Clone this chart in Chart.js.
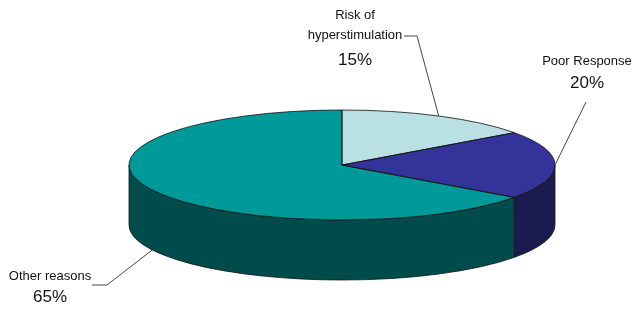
<!DOCTYPE html>
<html>
<head>
<meta charset="utf-8">
<script src="https://cdn.jsdelivr.net/npm/chart.js@4/dist/chart.umd.min.js"></script>
<style>
  html, body { margin: 0; padding: 0; background: #fff; }
  #wrap { width: 633px; height: 309px; }
</style>
</head>
<body>
<div id="wrap"><canvas id="pieChart" width="633" height="309"></canvas></div>
<script>
// datos del grafico
const categorias = [['Risk of', 'hyperstimulation'], ['Poor Response'], ['Other reasons']];
const valores = [15, 20, 65];
const coloresTapa = ['#b9e0e3', '#333399', '#009999'];
const coloresLado = ['#7fa3a6', '#1b1b4f', '#004c4c'];

// geometria de la elipse en pantalla
const CX = 342, CY = 165, RX = 213, RY = 55, PROF = 60;

// posicion de las etiquetas (centro del texto) y codo de la linea guia
const etiquetas = [
  { x: 355, y: 15, gap: 25, codo: [[404, 36], [417, 36]], base: 'top' },
  { x: 587, y: 61, gap: 22, codo: [[586, 102]], base: 'top' },
  { x: 50, y: 276, gap: 21, codo: [[92, 285], [107, 285]], base: 'bottom' }
];

function puntoElipse(a, dy) {
  return [CX + RX * Math.cos(a), CY + (dy || 0) + RY * Math.sin(a)];
}

const pie3d = {
  id: 'pie3d',
  beforeDatasetsDraw(chart) {
    const ctx = chart.ctx;
    const meta = chart.getDatasetMeta(0);
    // paredes laterales (solo la parte de delante)
    meta.data.forEach((arc, i) => {
      const p = arc.getProps(['startAngle', 'endAngle'], true);
      [[-2 * Math.PI, -Math.PI], [0, Math.PI], [2 * Math.PI, 3 * Math.PI]].forEach(([lo, hi]) => {
        const a1 = Math.max(p.startAngle, lo), a2 = Math.min(p.endAngle, hi);
        if (a2 <= a1) return;
        ctx.save();
        ctx.beginPath();
        ctx.ellipse(CX, CY, RX, RY, 0, a1, a2);
        ctx.ellipse(CX, CY + PROF, RX, RY, 0, a2, a1, true);
        ctx.closePath();
        ctx.fillStyle = coloresLado[i];
        ctx.fill();
        ctx.lineWidth = 0.8;
        ctx.strokeStyle = '#111';
        ctx.stroke();
        ctx.restore();
      });
    });
    // aplastar la tapa del pastel
    const a0 = meta.data[0];
    ctx.save();
    ctx.translate(CX, CY);
    ctx.scale(RX / a0.outerRadius, RY / a0.outerRadius);
    ctx.translate(-a0.x, -a0.y);
  },
  afterDatasetsDraw(chart) {
    const ctx = chart.ctx;
    ctx.restore();
    const meta = chart.getDatasetMeta(0);
    ctx.save();
    ctx.lineWidth = 0.8;
    ctx.strokeStyle = '#111';
    meta.data.forEach((arc) => {
      const p = arc.getProps(['startAngle', 'endAngle'], true);
      ctx.beginPath();
      ctx.moveTo(CX, CY);
      ctx.ellipse(CX, CY, RX, RY, 0, p.startAngle, p.endAngle);
      ctx.closePath();
      ctx.stroke();
    });
    ctx.restore();
  },
  afterDraw(chart) {
    const ctx = chart.ctx;
    const meta = chart.getDatasetMeta(0);
    const total = valores.reduce((s, v) => s + v, 0);
    ctx.save();
    meta.data.forEach((arc, i) => {
      const p = arc.getProps(['startAngle', 'endAngle'], true);
      const mid = (p.startAngle + p.endAngle) / 2;
      const et = etiquetas[i];
      const ancla = puntoElipse(mid, et.base === 'bottom' ? PROF : 0);
      // linea guia
      ctx.beginPath();
      ctx.moveTo(ancla[0], ancla[1]);
      for (let k = et.codo.length - 1; k >= 0; k--) ctx.lineTo(et.codo[k][0], et.codo[k][1]);
      ctx.lineWidth = 1;
      ctx.strokeStyle = '#444';
      ctx.stroke();
      // texto
      ctx.fillStyle = '#111';
      ctx.textAlign = 'center';
      ctx.textBaseline = 'middle';
      ctx.font = '13px "Liberation Sans", Arial, sans-serif';
      const lineas = categorias[i];
      lineas.forEach((t, k) => ctx.fillText(t, et.x, et.y + k * 20));
      ctx.font = '17px "Liberation Sans", Arial, sans-serif';
      const pct = Math.round(valores[i] / total * 100) + '%';
      ctx.fillText(pct, et.x, et.y + (lineas.length - 1) * 20 + et.gap);
    });
    ctx.restore();
  }
};

new Chart(document.getElementById('pieChart').getContext('2d'), {
  type: 'pie',
  data: {
    labels: categorias,
    datasets: [{
      data: valores,
      backgroundColor: coloresTapa,
      borderWidth: 0,
      clip: false
    }]
  },
  options: {
    responsive: false,
    animation: false,
    events: [],
    plugins: {
      legend: { display: false },
      tooltip: { enabled: false }
    }
  },
  plugins: [pie3d]
});
</script>
</body>
</html>
